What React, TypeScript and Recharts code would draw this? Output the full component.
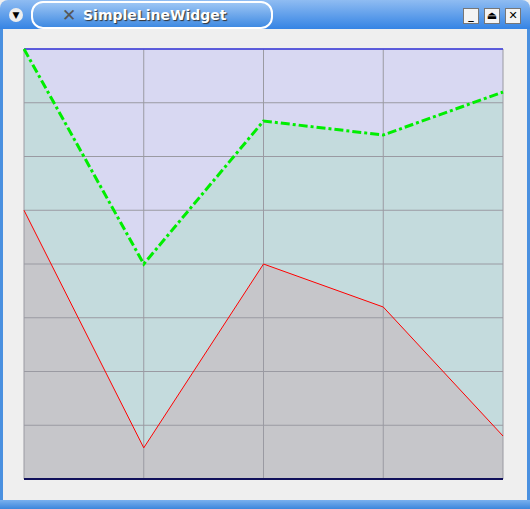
import React from "react";
import { ComposedChart, Area, Line, XAxis, YAxis, CartesianGrid } from "recharts";

const categories = ["0", "1", "2", "3", "4"];
const blueValues = [8, 8, 8, 8, 8];
const greenValues = [8, 4, 6.66, 6.4, 7.2];
const redValues = [5, 0.58, 4, 3.2, 0.8];
const yTicks = [0, 1, 2, 3, 4, 5, 6, 7, 8];

const data = categories.map((c, i) => ({ name: c, blue: blueValues[i], green: greenValues[i], red: redValues[i] }));

const W = 481;
const H = 432;
const M = { top: 1, right: 1, bottom: 1, left: 1 };
const layer: React.CSSProperties = { position: "absolute", left: 23, top: 48 };

function Axes() {
  return (
    <>
      <XAxis dataKey="name" hide />
      <YAxis domain={[0, 8]} ticks={yTicks} hide />
    </>
  );
}

export default function App() {
  return (
    <div style={{ position: "fixed", left: 0, top: 0, width: 530, height: 509, background: "#efefef", fontFamily: "DejaVu Sans, sans-serif" }}>
      {/* window title bar */}
      <div style={{ position: "absolute", left: 0, top: 0, width: 530, height: 29, background: "linear-gradient(#8fbcf2, #3584e4)", borderRadius: "8px 8px 0 0" }} />
      <div style={{ position: "absolute", left: 31, top: 1, width: 188, height: 24, border: "2px solid #fff", borderRadius: 12, background: "linear-gradient(#9cc5f4, #3f8ae2)", color: "#fff", fontWeight: "bold", fontSize: 14, lineHeight: "24px", paddingLeft: 50, boxSizing: "content-box", textShadow: "1px 1px 1px #333" }}>
        SimpleLineWidget
      </div>
      <div style={{ position: "absolute", left: 62, top: 5, color: "#555", fontSize: 17, fontWeight: "bold" }}>✕</div>
      <div style={{ position: "absolute", left: 9, top: 8, width: 14, height: 14, borderRadius: 7, background: "#eee", textAlign: "center", fontSize: 9, lineHeight: "14px" }}>▼</div>
      {["_", "⏏", "✕"].map((s, i) => (
        <div key={i} style={{ position: "absolute", left: 463 + i * 21, top: 8, width: 14, height: 14, background: "#f4f4f4", border: "1px solid #777", fontSize: 11, lineHeight: "13px", textAlign: "center", fontWeight: "bold" }}>{s}</div>
      ))}
      <div style={{ position: "absolute", left: 0, top: 29, width: 3, height: 480, background: "#4a90e0" }} />
      <div style={{ position: "absolute", left: 527, top: 29, width: 3, height: 480, background: "#4a90e0" }} />
      <div style={{ position: "absolute", left: 0, top: 500, width: 530, height: 9, background: "linear-gradient(#7ab0ee, #3d86dc)" }} />

      {/* fills */}
      <div style={layer}>
        <ComposedChart width={W} height={H} data={data} margin={M}>
          <Axes />
          <Area dataKey="blue" type="linear" stroke="none" fill="#d8d8f2" fillOpacity={1} isAnimationActive={false} />
          <Area dataKey="green" type="linear" stroke="none" fill="#c4dbdd" fillOpacity={1} isAnimationActive={false} />
          <Area dataKey="red" type="linear" stroke="none" fill="#c6c6ca" fillOpacity={1} isAnimationActive={false} />
        </ComposedChart>
      </div>
      {/* grid */}
      <div style={layer}>
        <ComposedChart width={W} height={H} data={data} margin={M}>
          <Axes />
          <CartesianGrid stroke="#9a9aa2" />
          <Line dataKey="blue" stroke="none" dot={false} isAnimationActive={false} />
        </ComposedChart>
      </div>
      {/* lines */}
      <div style={layer}>
        <ComposedChart width={W} height={H} data={data} margin={M}>
          <Axes />
          <Line dataKey="blue" type="linear" stroke="#3a3ae0" strokeWidth={1.5} dot={false} isAnimationActive={false} />
          <Line dataKey="green" type="linear" stroke="#00ee00" strokeWidth={3} strokeDasharray="9 3 3 3" dot={false} isAnimationActive={false} />
          <Line dataKey="red" type="linear" stroke="#ff0000" strokeWidth={1} dot={false} isAnimationActive={false} />
        </ComposedChart>
      </div>
      <div style={{ position: "absolute", left: 24, top: 478, width: 479, height: 2, background: "#10105a" }} />
    </div>
  );
}
